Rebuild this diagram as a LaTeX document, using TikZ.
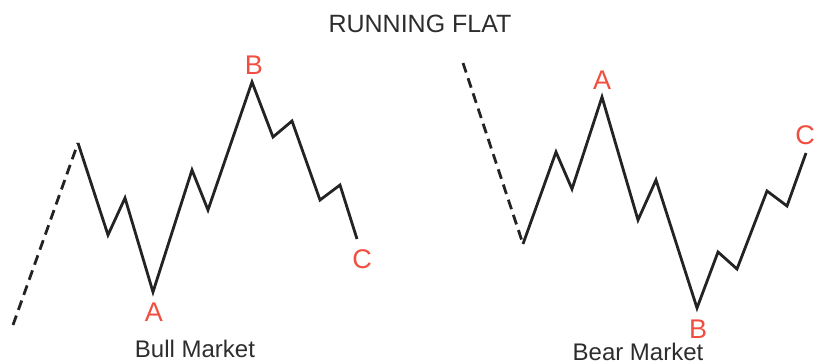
\documentclass[tikz,border=0pt]{standalone}
\usepackage{fontspec}
\setmainfont{Liberation Sans}
\definecolor{lbl}{RGB}{240,78,64}
\definecolor{ink}{RGB}{35,35,35}
\definecolor{txt}{RGB}{45,45,45}
\tikzset{
  wave/.style={draw=ink, line width=2.8pt, line join=miter, line cap=butt},
  lead/.style={draw=ink, line width=2.8pt, dash pattern=on 10pt off 6pt},
  ptlabel/.style={text=lbl, font=\fontsize{27}{27}\selectfont, inner sep=0pt},
  caption/.style={text=txt, font=\fontsize{24}{24}\selectfont, inner sep=0pt, anchor=base},
}
\begin{document}
\begin{tikzpicture}[x=1pt,y=-1pt]
\useasboundingbox (0,0) rectangle (817,364);
% title
\node[caption, font=\fontsize{25}{25}\selectfont] (title) at (420,32) {RUNNING FLAT};
% Bull market
\coordinate (l0) at (13,325);
\coordinate (l1) at (78,143);
\coordinate (l2) at (108,235);
\coordinate (l3) at (125,198);
\coordinate (l4) at (153,292);
\coordinate (l5) at (192,170);
\coordinate (l6) at (208,210);
\coordinate (l7) at (252,82);
\coordinate (l8) at (273,137);
\coordinate (l9) at (292,121);
\coordinate (l10) at (320,200);
\coordinate (l11) at (340,185);
\coordinate (l12) at (357,239);
\draw[lead] (l0) -- (l1);
\draw[wave] (l1) -- (l2) -- (l3) -- (l4) -- (l5) -- (l6) -- (l7) -- (l8) -- (l9) -- (l10) -- (l11) -- (l12);
\node[ptlabel] (la) at (154,312) {A};
\node[ptlabel] (lb) at (254,65) {B};
\node[ptlabel] (lc) at (362,259) {C};
\node[caption] (bull) at (195,357) {Bull Market};
% Bear market
\coordinate (r0) at (463,63);
\coordinate (r1) at (523,244);
\coordinate (r2) at (556,152);
\coordinate (r3) at (572,189);
\coordinate (r4) at (602,97);
\coordinate (r5) at (638,220);
\coordinate (r6) at (656,180);
\coordinate (r7) at (697,308);
\coordinate (r8) at (718,252);
\coordinate (r9) at (737,269);
\coordinate (r10) at (767,191);
\coordinate (r11) at (787,206);
\coordinate (r12) at (806,153);
\draw[lead] (r0) -- (r1);
\draw[wave] (r1) -- (r2) -- (r3) -- (r4) -- (r5) -- (r6) -- (r7) -- (r8) -- (r9) -- (r10) -- (r11) -- (r12);
\node[ptlabel] (ra) at (602,80) {A};
\node[ptlabel] (rb) at (698,329) {B};
\node[ptlabel] (rc) at (805,135) {C};
\node[caption] (bear) at (638,360) {Bear Market};
\end{tikzpicture}
\end{document}
